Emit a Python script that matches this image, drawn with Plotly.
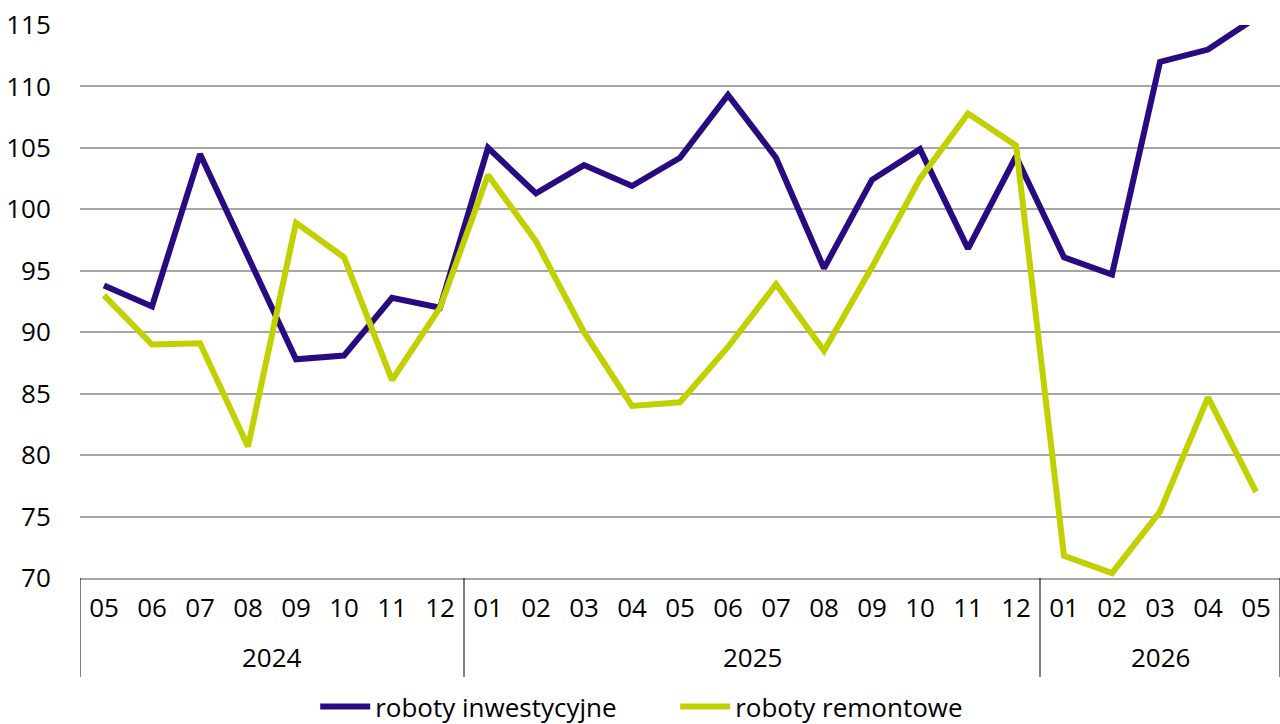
import plotly.graph_objects as go

# Okres: rok i miesiąc
years = ["2024"] * 8 + ["2025"] * 12 + ["2026"] * 5
months = ["05", "06", "07", "08", "09", "10", "11", "12",
          "01", "02", "03", "04", "05", "06", "07", "08", "09", "10", "11", "12",
          "01", "02", "03", "04", "05"]

# Wskaźniki (poprzedni okres = 100)
roboty_inwestycyjne = [93.8, 92.1, 104.5, 96.2, 87.8, 88.1, 92.8, 92.0,
                       105.0, 101.3, 103.6, 101.9, 104.2, 109.3, 104.2, 95.2,
                       102.4, 104.9, 96.8, 104.3,
                       96.1, 94.7, 112.0, 113.0, 115.6]
roboty_remontowe = [93.0, 89.0, 89.1, 80.7, 98.9, 96.1, 86.1, 92.0,
                    102.8, 97.4, 90.0, 84.0, 84.3, 88.8, 93.9, 88.5,
                    95.3, 102.5, 107.8, 105.2,
                    71.8, 70.4, 75.4, 84.7, 77.0]

y_ticks = [70, 75, 80, 85, 90, 95, 100, 105, 110, 115]

FONT = "Open Sans"
PURPLE = "#2A0A80"
GREEN = "#C1D100"

idx = list(range(len(months)))

fig = go.Figure()
fig.add_trace(go.Scatter(
    x=idx, y=roboty_inwestycyjne, mode="lines",
    name="roboty inwestycyjne", line=dict(color=PURPLE, width=6),
))
fig.add_trace(go.Scatter(
    x=idx, y=roboty_remontowe, mode="lines",
    name="roboty remontowe", line=dict(color=GREEN, width=6),
))

# linia odniesienia 100
fig.add_shape(type="line", xref="paper", x0=0, x1=1, yref="y", y0=100, y1=100,
              line=dict(color="black", width=1.5), layer="between")

# grupy lat: separatory i podpisy
groups = []
for i, y in enumerate(years):
    if not groups or groups[-1][0] != y:
        groups.append([y, i, i])
    else:
        groups[-1][2] = i

div_bottom = -0.179
edges = [g[1] - 0.5 for g in groups] + [groups[-1][2] + 0.5]
for e in edges:
    fig.add_shape(type="line", xref="x", x0=e, x1=e, yref="paper",
                  y0=0, y1=div_bottom, line=dict(color="black", width=1))
for name, a, b in groups:
    fig.add_annotation(x=(a + b) / 2, xref="x", y=-0.142, yref="paper",
                       text=name, showarrow=False, yanchor="middle",
                       font=dict(family=FONT, size=26, color="black"))

fig.update_layout(
    width=1280, height=724,
    margin=dict(l=80, r=0, t=25, b=146),
    paper_bgcolor="white", plot_bgcolor="white",
    font=dict(family=FONT, size=26, color="black"),
    showlegend=True,
    legend=dict(orientation="h", x=0.196, xanchor="left",
                yref="container", y=0.024, yanchor="middle",
                font=dict(family=FONT, size=26, color="black"),
                itemwidth=50, entrywidth=295, tracegroupgap=0),
    xaxis=dict(
        range=[-0.5, len(months) - 0.5], tickvals=idx, ticktext=months,
        showgrid=False, zeroline=False,
        showline=True, linecolor="#A6A6A6", linewidth=1.5,
        ticks="outside", ticklen=6, tickcolor="rgba(0,0,0,0)",
        tickfont=dict(family=FONT, size=26, color="black"),
    ),
    yaxis=dict(
        range=[70, 115], tickvals=y_ticks, showline=False, zeroline=False,
        showgrid=True, gridcolor="#A6A6A6", gridwidth=1.5,
        ticks="outside", ticklen=23, tickcolor="rgba(0,0,0,0)",
        tickfont=dict(family=FONT, size=26, color="black"),
    ),
)

fig.write_html("out.html")
